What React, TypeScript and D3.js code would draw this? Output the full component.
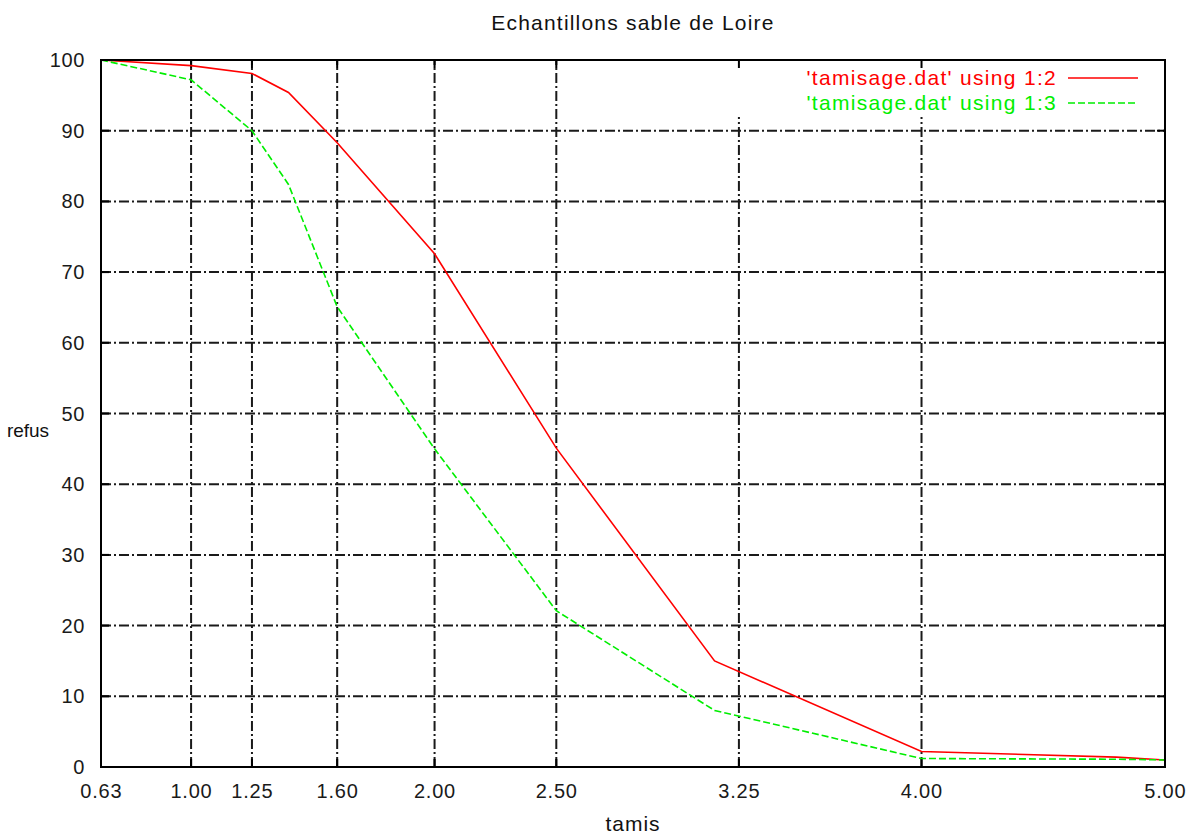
import React, { useEffect, useRef } from "react";
import * as d3 from "d3";

// sieve openings (mm) and cumulative refus (%)
const tamis = [0.63, 1.0, 1.25, 1.4, 1.6, 2.0, 2.5, 3.15, 4.0, 4.8, 5.0];
const refusCol2 = [100, 99.2, 98.1, 95.4, 88.3, 72.6, 45.1, 15, 2.2, 1.4, 1.0];
const refusCol3 = [100, 97.2, 90, 82.4, 65.1, 45, 22.1, 8, 1.2, 1.1, 1.0];

const xTicks = [0.63, 1.0, 1.25, 1.6, 2.0, 2.5, 3.25, 4.0, 5.0];
const yTicks = [0, 10, 20, 30, 40, 50, 60, 70, 80, 90, 100];

const seriesLabels = ["'tamisage.dat' using 1:2", "'tamisage.dat' using 1:3"];
const seriesColors = ["#ff0000", "#00ee00"];

const W = 1191;
const H = 834;
const plot = { left: 101, right: 1165, top: 60, bottom: 767 };
const FONT = "'Liberation Sans', Arial, sans-serif";

export default function App() {
  const ref = useRef<SVGSVGElement>(null);

  useEffect(() => {
    const svg = d3.select(ref.current);
    svg.selectAll("*").remove();

    svg.append("rect").attr("width", W).attr("height", H).attr("fill", "white");

    const x = d3.scaleLinear().domain([0.63, 5.0]).range([plot.left, plot.right]);
    const y = d3.scaleLinear().domain([0, 100]).range([plot.bottom, plot.top]);

    //////////////////// grid (dash-dot)
    const grid = svg.append("g")
      .attr("stroke", "#1a1a1a")
      .attr("stroke-width", 2)
      .attr("stroke-dasharray", "10,3,2,3");

    grid.selectAll("line.h")
      .data(yTicks.filter((d) => d > 0 && d < 100))
      .enter().append("line")
      .attr("x1", plot.left).attr("x2", plot.right)
      .attr("y1", (d) => y(d)).attr("y2", (d) => y(d));

    grid.selectAll("line.v")
      .data(xTicks.filter((d) => d > 0.63 && d < 5))
      .enter().append("line")
      .attr("x1", (d) => x(d)).attr("x2", (d) => x(d))
      .attr("y1", plot.bottom).attr("y2", plot.top);

    // key area hides the grid behind it
    svg.append("rect")
      .attr("x", 735).attr("y", plot.top + 1)
      .attr("width", plot.right - 736).attr("height", 56)
      .attr("fill", "white");

    //////////////////// ticks on all four sides
    const ticks = svg.append("g").attr("stroke", "#000").attr("stroke-width", 2);
    const tl = 8;
    xTicks.forEach((t) => {
      ticks.append("line").attr("x1", x(t)).attr("x2", x(t)).attr("y1", plot.bottom).attr("y2", plot.bottom - tl);
      ticks.append("line").attr("x1", x(t)).attr("x2", x(t)).attr("y1", plot.top).attr("y2", plot.top + tl);
    });
    yTicks.forEach((t) => {
      ticks.append("line").attr("x1", plot.left).attr("x2", plot.left + tl).attr("y1", y(t)).attr("y2", y(t));
      ticks.append("line").attr("x1", plot.right).attr("x2", plot.right - tl).attr("y1", y(t)).attr("y2", y(t));
    });

    //////////////////// tick labels
    svg.append("g")
      .selectAll("text")
      .data(xTicks)
      .enter().append("text")
      .attr("x", (d) => x(d) + 0.4)
      .attr("y", 798)
      .attr("text-anchor", "middle")
      .style("font", "20px " + FONT)
      .style("letter-spacing", "0.8px")
      .attr("fill", "#1a1a1a")
      .text((d) => d3.format(".2f")(d));

    svg.append("g")
      .selectAll("text")
      .data(yTicks)
      .enter().append("text")
      .attr("x", 85)
      .attr("y", (d) => y(d) + 7)
      .attr("text-anchor", "end")
      .style("font", "20px " + FONT)
      .style("letter-spacing", "0.6px")
      .attr("fill", "#1a1a1a")
      .text((d) => d);

    //////////////////// series
    const line = d3.line<number>()
      .x((d, i) => x(tamis[i]))
      .y((d) => y(d));

    svg.append("path")
      .datum(refusCol2)
      .attr("d", line)
      .attr("fill", "none")
      .attr("stroke", seriesColors[0])
      .attr("stroke-width", 1.6);

    svg.append("path")
      .datum(refusCol3)
      .attr("d", line)
      .attr("fill", "none")
      .attr("stroke", seriesColors[1])
      .attr("stroke-width", 1.6)
      .attr("stroke-dasharray", "7,3");

    //////////////////// border
    svg.append("rect")
      .attr("x", plot.left).attr("y", plot.top)
      .attr("width", plot.right - plot.left).attr("height", plot.bottom - plot.top)
      .attr("fill", "none")
      .attr("stroke", "#000")
      .attr("stroke-width", 2);

    //////////////////// key
    seriesLabels.forEach((label, i) => {
      const ky = 78 + i * 25;
      svg.append("text")
        .attr("x", 1057).attr("y", ky + 7)
        .attr("text-anchor", "end")
        .style("font", "21px " + FONT)
        .style("letter-spacing", "1.3px")
        .attr("fill", seriesColors[i])
        .text(label);
      svg.append("line")
        .attr("x1", 1068).attr("x2", 1138)
        .attr("y1", ky).attr("y2", ky)
        .attr("stroke", seriesColors[i])
        .attr("stroke-width", 1.6)
        .attr("stroke-dasharray", i === 1 ? "7,3" : null);
    });

    //////////////////// titles
    svg.append("text")
      .attr("x", 633).attr("y", 30)
      .attr("text-anchor", "middle")
      .style("font", "21px " + FONT)
      .style("letter-spacing", "1.2px")
      .attr("fill", "#111")
      .text("Echantillons sable de Loire");

    svg.append("text")
      .attr("x", 633).attr("y", 831)
      .attr("text-anchor", "middle")
      .style("font", "21px " + FONT)
      .style("letter-spacing", "1px")
      .attr("fill", "#111")
      .text("tamis");

    svg.append("text")
      .attr("x", 28).attr("y", 437)
      .attr("text-anchor", "middle")
      .style("font", "19px " + FONT)
      .attr("fill", "#111")
      .text("refus");
  }, []);

  return (
    <div style={{ position: "absolute", left: 0, top: 0 }}>
      <svg ref={ref} width={W} height={H} style={{ display: "block" }} />
    </div>
  );
}
